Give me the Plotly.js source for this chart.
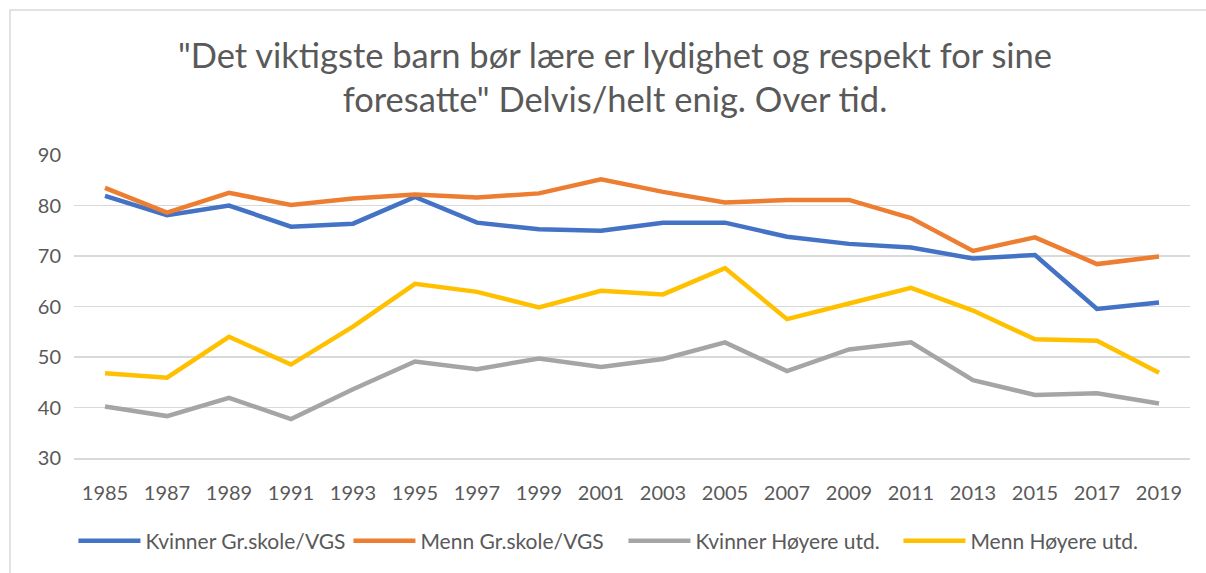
<!DOCTYPE html>
<html>
<head>
<meta charset="utf-8">
<script src="https://cdn.plot.ly/plotly-3.0.1.min.js"></script>
<style>
  html, body { margin: 0; padding: 0; background: #ffffff; }
  #chart { width: 1206px; height: 573px; }
</style>
</head>
<body>
<div id="chart"></div>
<script>
const years = ["1985","1987","1989","1991","1993","1995","1997","1999","2001","2003","2005","2007","2009","2011","2013","2015","2017","2019"];

const kvinnerGrskole = [81.9, 78.1, 80.0, 75.8, 76.4, 81.7, 76.6, 75.3, 75.0, 76.6, 76.6, 73.8, 72.4, 71.7, 69.5, 70.2, 59.5, 60.8];
const mennGrskole    = [83.5, 78.6, 82.5, 80.1, 81.4, 82.2, 81.6, 82.4, 85.2, 82.7, 80.6, 81.1, 81.1, 77.5, 71.0, 73.7, 68.4, 69.9];
const kvinnerHoyere  = [40.2, 38.3, 41.9, 37.7, 43.6, 49.1, 47.6, 49.7, 48.0, 49.6, 52.9, 47.2, 51.5, 52.9, 45.4, 42.5, 42.8, 40.8];
const mennHoyere     = [46.8, 45.9, 54.0, 48.5, 56.0, 64.5, 62.9, 59.8, 63.1, 62.4, 67.6, 57.5, 60.6, 63.7, 59.2, 53.5, 53.2, 46.9];

const seriesNames = ["Kvinner Gr.skole/VGS", "Menn Gr.skole/VGS", "Kvinner Høyere utd.", "Menn Høyere utd."];
const yTicks = [30, 40, 50, 60, 70, 80, 90];
const titleText = '"Det viktigste barn bør lære er lydighet og respekt for sine<br>foresatte" Delvis/helt enig. Over tid.';

const colors = ["#4472C4", "#ED7D31", "#A5A5A5", "#FFC000"];
const seriesValues = [kvinnerGrskole, mennGrskole, kvinnerHoyere, mennHoyere];

const font = "Lato, 'Open Sans', sans-serif";

const traces = seriesValues.map((vals, i) => ({
  type: "scatter",
  mode: "lines",
  x: years,
  y: vals,
  name: seriesNames[i],
  line: { color: colors[i], width: 4.5, shape: "linear" },
  hoverinfo: "x+y+name"
}));

const layout = {
  width: 1206,
  height: 573,
  paper_bgcolor: "#ffffff",
  plot_bgcolor: "#ffffff",
  margin: { l: 74, r: 16, t: 155, b: 115 },
  font: { family: font, color: "#595959", size: 20 },
  title: {
    text: titleText,
    font: { family: font, size: 34.5, color: "#595959" },
    x: 615 / 1206,
    xanchor: "center",
    xref: "container",
    y: 1 - 67.5 / 573,
    yref: "container",
    yanchor: "middle"
  },
  xaxis: {
    type: "category",
    range: [-0.5, 17.5],
    showgrid: false,
    showline: true,
    linecolor: "#D9D9D9",
    linewidth: 1.5,
    ticks: "",
    ticklabelstandoff: 16,
    tickfont: { family: font, size: 20, color: "#595959" },
    fixedrange: true
  },
  yaxis: {
    range: [30, 90],
    tickvals: yTicks,
    showgrid: true,
    gridcolor: "#D9D9D9",
    gridwidth: 1.5,
    zeroline: false,
    showline: false,
    ticks: "",
    ticklabelstandoff: 12,
    tickfont: { family: font, size: 20, color: "#595959" },
    fixedrange: true
  },
  showlegend: true,
  legend: {
    orientation: "h",
    x: -0.0005,
    xanchor: "left",
    y: (458 - 541) / 303,
    yanchor: "middle",
    itemwidth: 62,
    entrywidth: 198,
    entrywidthmode: "pixels",
    font: { family: font, size: 21, color: "#595959" },
    bgcolor: "rgba(0,0,0,0)"
  },
  shapes: [{
    type: "rect",
    xref: "paper", yref: "paper",
    x0: (10 - 74) / 1116, x1: (1230 - 74) / 1116,
    y0: (458 - 600) / 303, y1: (458 - 10) / 303,
    line: { color: "#D9D9D9", width: 1.5 },
    fillcolor: "rgba(0,0,0,0)",
    layer: "below"
  }]
};

Plotly.newPlot("chart", traces, layout, { displayModeBar: false, staticPlot: true });
</script>
</body>
</html>
